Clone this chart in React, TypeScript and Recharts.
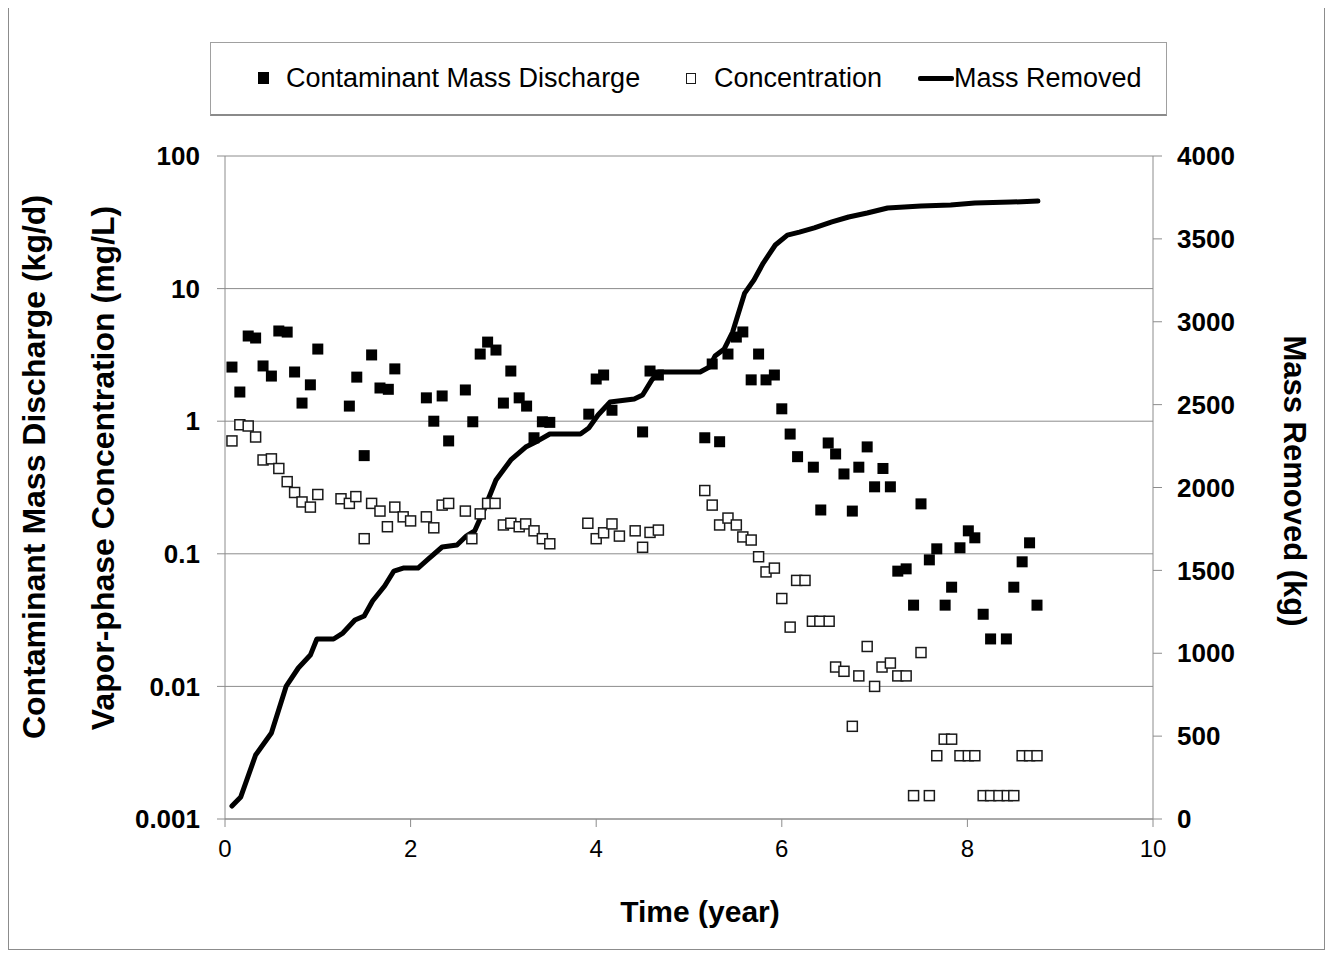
import { ComposedChart, Scatter, Line, XAxis, YAxis, CartesianGrid } from 'recharts';

// time (year) of each contaminant mass discharge reading, kg/d
const dischargeTime = [
  0.075, 0.16, 0.25, 0.33, 0.41, 0.5, 0.58, 0.67, 0.75, 0.83, 0.92, 1.0,
  1.34, 1.42, 1.5, 1.58, 1.67, 1.76, 1.83, 2.17, 2.25, 2.34, 2.41, 2.59,
  2.67, 2.75, 2.83, 2.92, 3.0, 3.08, 3.17, 3.25, 3.33, 3.42, 3.5, 3.92,
  4.0, 4.08, 4.17, 4.5, 4.58, 4.67, 5.17, 5.25, 5.33, 5.42, 5.51, 5.58,
  5.67, 5.75, 5.83, 5.92, 6.0, 6.09, 6.17, 6.34, 6.42, 6.5, 6.58, 6.67,
  6.76, 6.83, 6.92, 7.0, 7.09, 7.17, 7.25, 7.34, 7.42, 7.5, 7.59, 7.67,
  7.76, 7.83, 7.92, 8.01, 8.08, 8.17, 8.25, 8.42, 8.5, 8.59, 8.67, 8.75,
];
const dischargeValue = [
  2.56, 1.66, 4.39, 4.24, 2.61, 2.19, 4.79, 4.7, 2.35, 1.37, 1.88, 3.5,
  1.3, 2.15, 0.55, 3.16, 1.78, 1.74, 2.48, 1.5, 1.0, 1.55, 0.71, 1.72,
  0.99, 3.21, 3.95, 3.44, 1.37, 2.39, 1.5, 1.3, 0.75, 0.99, 0.98, 1.13,
  2.08, 2.23, 1.21, 0.83, 2.39, 2.23, 0.75, 2.7, 0.7, 3.21, 4.31, 4.71,
  2.05, 3.21, 2.05, 2.23, 1.24, 0.8, 0.54, 0.45, 0.214, 0.685, 0.566, 0.4,
  0.21, 0.45, 0.64, 0.32, 0.44, 0.32, 0.074, 0.077, 0.041, 0.238, 0.09, 0.109,
  0.041, 0.056, 0.111, 0.149, 0.132, 0.035, 0.0228, 0.0228, 0.056, 0.087, 0.121, 0.041,
];

// vapor-phase concentration, mg/L
const concTime = [
  0.075, 0.16, 0.25, 0.33, 0.41, 0.5, 0.58, 0.67, 0.75, 0.83, 0.92, 1.0,
  1.25, 1.34, 1.41, 1.5, 1.58, 1.67, 1.75, 1.83, 1.92, 2.0, 2.17, 2.25,
  2.34, 2.41, 2.59, 2.66, 2.75, 2.83, 2.91, 3.0, 3.08, 3.17, 3.24, 3.33,
  3.42, 3.5, 3.91, 4.0, 4.08, 4.17, 4.25, 4.42, 4.5, 4.58, 4.67, 5.17,
  5.25, 5.33, 5.42, 5.51, 5.58, 5.67, 5.75, 5.83, 5.92, 6.0, 6.09, 6.16,
  6.25, 6.33, 6.41, 6.51, 6.58, 6.67, 6.76, 6.83, 6.92, 7.0, 7.08, 7.17,
  7.25, 7.34, 7.42, 7.5, 7.59, 7.67, 7.75, 7.83, 7.92, 8.01, 8.08, 8.17,
  8.25, 8.34, 8.43, 8.5, 8.59, 8.67, 8.75,
];
const concValue = [
  0.71, 0.94, 0.92, 0.76, 0.51, 0.52, 0.44, 0.35, 0.29, 0.246, 0.225, 0.28,
  0.26, 0.24, 0.27, 0.13, 0.24, 0.21, 0.16, 0.225, 0.19, 0.177, 0.19, 0.157,
  0.233, 0.24, 0.21, 0.13, 0.2, 0.24, 0.24, 0.165, 0.17, 0.16, 0.168, 0.149,
  0.13, 0.119, 0.17, 0.13, 0.144, 0.168, 0.136, 0.149, 0.112, 0.145, 0.151, 0.3,
  0.233, 0.165, 0.186, 0.165, 0.134, 0.127, 0.095, 0.073, 0.078, 0.046, 0.028, 0.063,
  0.063, 0.031, 0.031, 0.031, 0.014, 0.013, 0.005, 0.012, 0.02, 0.01, 0.014, 0.015,
  0.012, 0.012, 0.0015, 0.018, 0.0015, 0.003, 0.004, 0.004, 0.003, 0.003, 0.003, 0.0015,
  0.0015, 0.0015, 0.0015, 0.0015, 0.003, 0.003, 0.003,
];

// cumulative mass removed, kg
const massTime = [
  0.075, 0.17, 0.33, 0.5, 0.66, 0.79, 0.92, 0.99, 1.17, 1.27, 1.4, 1.5,
  1.59, 1.72, 1.82, 1.92, 2.08, 2.18, 2.34, 2.5, 2.6, 2.69, 2.79, 2.92,
  3.08, 3.24, 3.37, 3.5, 3.83, 3.92, 4.02, 4.15, 4.41, 4.5, 4.6, 4.67,
  5.12, 5.22, 5.28, 5.38, 5.47, 5.6, 5.7, 5.8, 5.93, 6.06, 6.19, 6.35,
  6.54, 6.72, 6.92, 7.14, 7.5, 7.82, 8.08, 8.47, 8.76,
];
const massValue = [
  78, 133, 386, 519, 802, 911, 989, 1086, 1086, 1122, 1201, 1225,
  1315, 1406, 1496, 1514, 1514, 1563, 1641, 1653, 1707, 1738, 1864, 2045,
  2166, 2244, 2281, 2323, 2323, 2359, 2437, 2516, 2534, 2558, 2649, 2697,
  2697, 2727, 2793, 2836, 2938, 3173, 3252, 3354, 3463, 3523, 3541, 3566,
  3602, 3632, 3656, 3686, 3698, 3704, 3716, 3722, 3728,
];

const timeTicks = [0, 2, 4, 6, 8, 10];
const logTicks = [0.001, 0.01, 0.1, 1, 10, 100];
const massTicks = [0, 500, 1000, 1500, 2000, 2500, 3000, 3500, 4000];

const dischargeData = dischargeTime.map((x, i) => ({ x, y: dischargeValue[i] }));
const concData = concTime.map((x, i) => ({ x, y: concValue[i] }));
const massData = massTime.map((x, i) => ({ x, y: massValue[i] }));

const FONT = '"Liberation Sans", Arial, Helvetica, sans-serif';
const GRAY = '#8c8c8c';

function FilledSquare(props: any) {
  const { cx, cy } = props;
  if (cx == null || cy == null) return null;
  return <rect x={cx - 5.5} y={cy - 5.5} width={11} height={11} fill="#000" />;
}

function OpenSquare(props: any) {
  const { cx, cy } = props;
  if (cx == null || cy == null) return null;
  return (
    <rect x={cx - 5} y={cy - 5} width={10} height={10} fill="#fff" stroke="#1a1a1a" strokeWidth={1.5} />
  );
}

const titleStyle: React.CSSProperties = {
  position: 'absolute',
  fontFamily: FONT,
  fontWeight: 'bold',
  fontSize: 30,
  whiteSpace: 'nowrap',
  color: '#000',
};

export default function App() {
  return (
    <div style={{ position: 'relative', width: 1317, height: 943, fontFamily: FONT, background: '#fff' }}>
      <div
        style={{
          position: 'absolute',
          left: 0,
          top: -1,
          width: 1317,
          height: 943,
          border: `1px solid ${GRAY}`,
          boxSizing: 'border-box',
        }}
      />

      {/* legend box */}
      <div
        style={{
          position: 'absolute',
          left: 202,
          top: 34,
          width: 957,
          height: 74,
          border: '1px solid #a0a0a0',
          borderBottom: '2px solid #8a8a8a',
          boxSizing: 'border-box',
          fontSize: 27,
          color: '#000',
        }}
      >
        <div style={{ position: 'absolute', left: 47, top: 29, width: 11, height: 12, background: '#000' }} />
        <div style={{ position: 'absolute', left: 75, top: 19, lineHeight: '32px' }}>Contaminant Mass Discharge</div>
        <div
          style={{
            position: 'absolute',
            left: 475,
            top: 30,
            width: 10,
            height: 11,
            border: '1.5px solid #1a1a1a',
            boxSizing: 'border-box',
          }}
        />
        <div style={{ position: 'absolute', left: 503, top: 19, lineHeight: '32px' }}>Concentration</div>
        <div style={{ position: 'absolute', left: 707, top: 33, width: 36, height: 5, background: '#000', borderRadius: 2 }} />
        <div style={{ position: 'absolute', left: 743, top: 19, lineHeight: '32px' }}>Mass Removed</div>
      </div>

      <ComposedChart
        width={1317}
        height={943}
        margin={{ top: 148, right: 72, bottom: 72, left: 117 }}
        style={{ position: 'absolute', left: 0, top: 0 }}
      >
        <CartesianGrid yAxisId="left" vertical={false} stroke={GRAY} strokeWidth={1} />
        <XAxis
          type="number"
          dataKey="x"
          domain={[0, 10]}
          ticks={timeTicks}
          allowDataOverflow
          height={60}
          stroke={GRAY}
          tickSize={8}
          tickMargin={13}
          tick={{ fill: '#000', fontSize: 24, fontFamily: FONT }}
        />
        <YAxis
          yAxisId="left"
          dataKey="y"
          scale="log"
          domain={[0.001, 100]}
          ticks={logTicks}
          allowDataOverflow
          width={100}
          stroke={GRAY}
          tickSize={8}
          tickMargin={17}
          tickFormatter={(v: number) => String(v)}
          tick={{ fill: '#000', fontSize: 26, fontWeight: 'bold', fontFamily: FONT }}
        />
        <YAxis
          yAxisId="right"
          orientation="right"
          dataKey="y"
          domain={[0, 4000]}
          ticks={massTicks}
          allowDataOverflow
          width={100}
          stroke={GRAY}
          tickSize={9}
          tickMargin={15}
          tick={{ fill: '#000', fontSize: 26, fontWeight: 'bold', fontFamily: FONT }}
        />
        <Scatter
          yAxisId="left"
          data={dischargeData}
          dataKey="y"
          shape={FilledSquare}
          isAnimationActive={false}
        />
        <Scatter
          yAxisId="left"
          data={concData}
          dataKey="y"
          shape={OpenSquare}
          isAnimationActive={false}
        />
        <Line
          yAxisId="right"
          data={massData}
          dataKey="y"
          type="linear"
          stroke="#000"
          strokeWidth={5}
          strokeLinejoin="round"
          strokeLinecap="round"
          dot={false}
          activeDot={false}
          isAnimationActive={false}
        />
      </ComposedChart>

      {/* axis titles */}
      <div style={{ ...titleStyle, fontSize: 32, left: 26, top: 459, transform: 'translate(-50%, -50%) rotate(-90deg)' }}>
        Contaminant Mass Discharge (kg/d)
      </div>
      <div style={{ ...titleStyle, fontSize: 32, left: 95, top: 460, transform: 'translate(-50%, -50%) rotate(-90deg)' }}>
        Vapor-phase Concentration (mg/L)
      </div>
      <div style={{ ...titleStyle, fontSize: 31, left: 1286, top: 473, transform: 'translate(-50%, -50%) rotate(90deg)' }}>
        Mass Removed (kg)
      </div>
      <div style={{ ...titleStyle, left: 692, top: 904, transform: 'translate(-50%, -50%)' }}>
        Time (year)
      </div>
    </div>
  );
}
